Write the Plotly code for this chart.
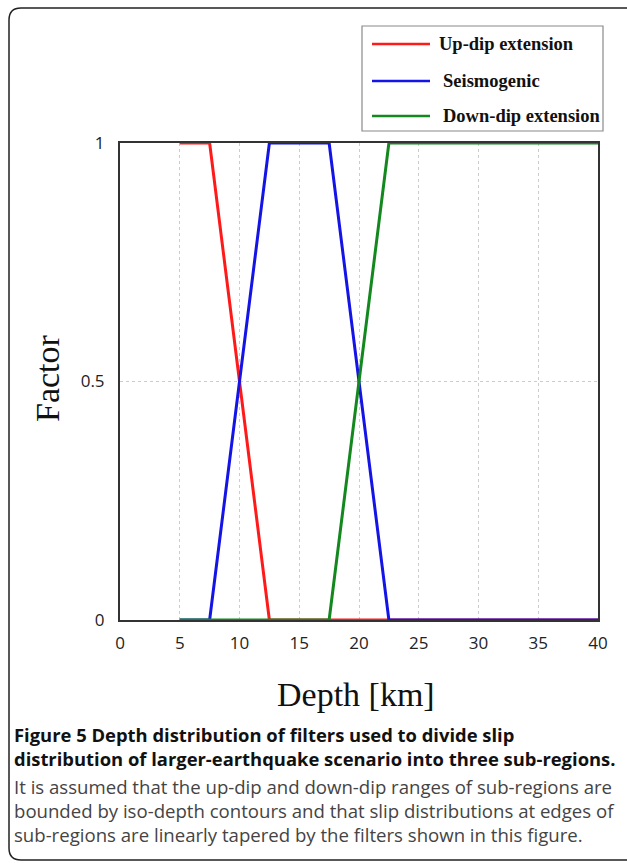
import plotly.graph_objects as go

# ---- data ----
updip_depth = [5, 7.5, 12.5, 40]
updip_factor = [1, 1, 0, 0]
seis_depth = [5, 7.5, 12.5, 17.5, 22.5, 40]
seis_factor = [0, 0, 1, 1, 0, 0]
down_depth = [5, 17.5, 22.5, 40]
down_factor = [0, 0, 1, 1]
series_names = ["Up-dip extension", "Seismogenic", "Down-dip extension"]
series_colors = ["#ff1a1a", "#1414e6", "#13881f"]
x_ticks = [0, 5, 10, 15, 20, 25, 30, 35, 40]
y_ticks = [0, 0.5, 1]
y_ticklabels = ["0", "0.5", "1"]

W, H = 627, 863
PL, PR, PT, PB = 120, 598, 143, 620


def px(xp):
    return (xp - PL) / (PR - PL)


def py(yp):
    return (PB - yp) / (PB - PT)


fig = go.Figure()
for xs, ys, name, col in zip([updip_depth, seis_depth, down_depth],
                             [updip_factor, seis_factor, down_factor],
                             series_names, series_colors):
    fig.add_trace(go.Scatter(x=xs, y=ys, mode="lines", name=name,
                             line=dict(color=col, width=3), showlegend=False))

tickfont = dict(family="Open Sans", size=17, color="#222222")
fig.update_xaxes(range=[0, 40], tickvals=x_ticks, showgrid=True,
                 gridcolor="#cccccc", griddash="dot", gridwidth=1,
                 showline=True, mirror=True, linecolor="#333333", linewidth=2,
                 zeroline=False, ticks="outside", ticklen=7, tickcolor="rgba(0,0,0,0)",
                 tickfont=tickfont)
fig.update_yaxes(range=[0, 1], tickvals=y_ticks, ticktext=y_ticklabels,
                 showgrid=True, gridcolor="#cccccc", griddash="dot", gridwidth=1,
                 showline=True, mirror=True, linecolor="#333333", linewidth=2,
                 zeroline=False, ticks="outside", ticklen=10, tickcolor="rgba(0,0,0,0)",
                 tickfont=tickfont)

shapes = []
annotations = []

# outer rounded frame
r = 12
x0, x1, y0, y1 = 9, 640, 8, 860
path = (f"M {px(x0+r)},{py(y0)} L {px(x1-r)},{py(y0)} Q {px(x1)},{py(y0)} {px(x1)},{py(y0+r)} "
        f"L {px(x1)},{py(y1-r)} Q {px(x1)},{py(y1)} {px(x1-r)},{py(y1)} "
        f"L {px(x0+r)},{py(y1)} Q {px(x0)},{py(y1)} {px(x0)},{py(y1-r)} "
        f"L {px(x0)},{py(y0+r)} Q {px(x0)},{py(y0)} {px(x0+r)},{py(y0)} Z")
shapes.append(dict(type="path", xref="paper", yref="paper", path=path,
                   line=dict(color="#222222", width=1.5)))

# legend box
shapes.append(dict(type="rect", xref="paper", yref="paper",
                   x0=px(362), x1=px(603), y0=py(26), y1=py(131),
                   line=dict(color="#8a8a8a", width=1.2), fillcolor="white"))
leg_y = [44, 81, 116]
leg_tx = [437, 441, 441]
for name, col, yy, tx in zip(series_names, series_colors, leg_y, leg_tx):
    shapes.append(dict(type="line", xref="paper", yref="paper",
                       x0=px(372), x1=px(430), y0=py(yy), y1=py(yy),
                       line=dict(color=col, width=2.5)))
    annotations.append(dict(xref="paper", yref="paper", x=px(tx), y=py(yy),
                            text=f"<b>{name}</b>", showarrow=False,
                            xanchor="left", yanchor="middle",
                            font=dict(family="Liberation Serif", size=18.5, color="#111111")))

# axis titles
annotations.append(dict(xref="paper", yref="paper", x=px(356), y=py(694),
                        text="Depth [km]", showarrow=False, xanchor="center",
                        yanchor="middle",
                        font=dict(family="Liberation Serif", size=34, color="#111111")))
annotations.append(dict(xref="paper", yref="paper", x=px(47), y=py(378),
                        text="Factor", showarrow=False, xanchor="center",
                        yanchor="middle", textangle=-90,
                        font=dict(family="Liberation Serif", size=34, color="#111111")))

# caption
cap_bold = ["Figure 5 Depth distribution of filters used to divide slip",
            "distribution of larger-earthquake scenario into three sub-regions."]
cap_reg = ["It is assumed that the up-dip and down-dip ranges of sub-regions are",
           "bounded by iso-depth contours and that slip distributions at edges of",
           "sub-regions are linearly tapered by the filters shown in this figure."]
for t, yy in zip(cap_bold, [734, 758]):
    annotations.append(dict(xref="paper", yref="paper", x=px(12), y=py(yy),
                            text=f"<b>{t}</b>", showarrow=False, xanchor="left",
                            yanchor="middle",
                            font=dict(family="Open Sans", size=18.4, color="#111111")))
for t, yy in zip(cap_reg, [786, 810, 834]):
    annotations.append(dict(xref="paper", yref="paper", x=px(12), y=py(yy),
                            text=t, showarrow=False, xanchor="left",
                            yanchor="middle",
                            font=dict(family="Open Sans", size=18.6, color="#444444")))

fig.update_layout(width=W, height=H, autosize=False,
                  margin=dict(l=PL, r=W - PR, t=PT, b=H - PB, pad=0),
                  paper_bgcolor="white", plot_bgcolor="white",
                  shapes=shapes, annotations=annotations, showlegend=False)

fig.write_html("out.html", config={"displayModeBar": False},
               post_script="document.body.style.margin='0';document.body.style.padding='0';")
